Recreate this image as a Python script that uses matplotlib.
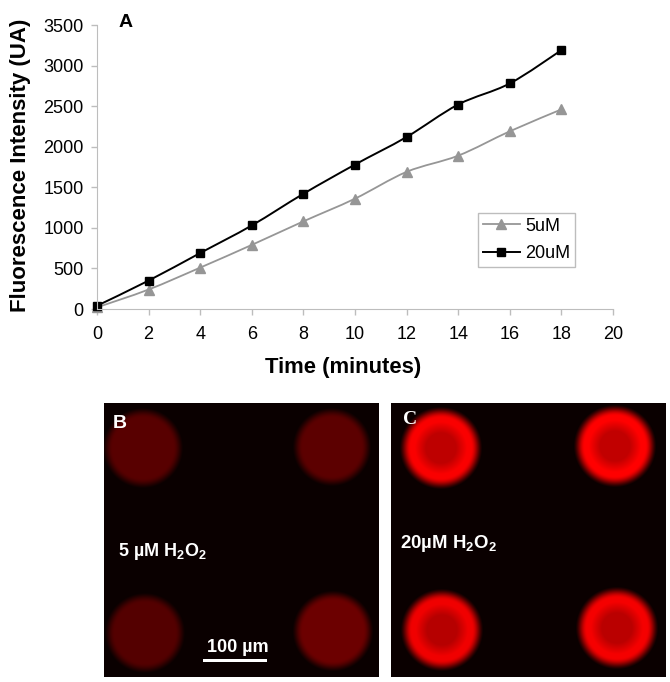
import numpy as np
import matplotlib
matplotlib.use('Agg')
import matplotlib.pyplot as plt
from matplotlib.lines import Line2D
from matplotlib.path import Path
from matplotlib.patches import PathPatch, Rectangle

plt.rcParams['font.family'] = ['Liberation Sans', 'DejaVu Sans']
plt.rcParams['mathtext.fontset'] = 'custom'
plt.rcParams['mathtext.bf'] = 'Liberation Sans:bold'
plt.rcParams['mathtext.rm'] = 'Liberation Sans'

W, H = 670, 682

time_min = [0, 2, 4, 6, 8, 10, 12, 14, 16, 18]
values_5um = [20, 240, 510, 790, 1080, 1360, 1690, 1890, 2190, 2460]
values_20um = [40, 350, 690, 1030, 1420, 1780, 2120, 2520, 2780, 3190]
x_ticks = list(range(0, 21, 2))
y_ticks = list(range(0, 3501, 500))

# spots: centre x, centre y, radius, brightness
spots_b = [(143, 448, 38, 88), (332, 447, 37, 92), (145, 633, 38, 84), (333, 631, 38, 108)]
spots_c = [(441, 448, 38, 250), (615, 446, 38, 255), (442, 630, 38, 240), (617, 628, 38, 245)]

GREY = '#969696'
AXIS = '#bdbdbd'


def box(x0, x1, y0, y1):
    # pixel box to figure fraction
    return [x0 / W, 1 - y1 / H, (x1 - x0) / W, (y1 - y0) / H]


def smooth_path(x, y):
    # same kind of smoothing as a spreadsheet "smoothed line"
    p = np.column_stack([x, y]).astype(float)
    verts = [p[0]]
    codes = [Path.MOVETO]
    for i in range(len(p) - 1):
        a = p[max(i - 1, 0)]
        d = p[min(i + 2, len(p) - 1)]
        verts += [p[i] + (p[i + 1] - a) / 6, p[i + 1] - (d - p[i]) / 6, p[i + 1]]
        codes += [Path.CURVE4] * 3
    return Path(verts, codes)


def spot_image(spots, x0, x1, y0, y1, ring):
    xx, yy = np.meshgrid(np.arange(x0, x1) + 0.5, np.arange(y0, y1) + 0.5)
    red = np.full(xx.shape, 10.0)
    for cx, cy, r, level in spots:
        d = np.hypot(xx - cx, yy - cy)
        edge = np.clip((r + 5 - d) / 13, 0, 1)
        edge = edge * edge * (3 - 2 * edge)
        if ring:
            shape = 0.76 + 0.24 * np.clip((d - 15) / 11, 0, 1)
        else:
            shape = 1.0
        red = np.maximum(red, level * shape * edge)
    img = np.zeros(xx.shape + (3,))
    img[..., 0] = red / 255
    return img


fig = plt.figure(figsize=(W / 100, H / 100), dpi=100, facecolor='white')

ax = fig.add_axes(box(97, 613, 25, 309))
ax.add_patch(PathPatch(smooth_path(time_min, values_5um), fc='none', ec=GREY, lw=1.3))
ax.add_patch(PathPatch(smooth_path(time_min, values_20um), fc='none', ec='black', lw=1.4))
ax.plot(time_min, values_5um, ls='none', marker='^', ms=6.5, color=GREY, clip_on=False)
ax.plot(time_min, values_20um, ls='none', marker='s', ms=5.2, color='black', clip_on=False)
ax.set_xlim(0, 20)
ax.set_ylim(0, 3500)
ax.set_xticks(x_ticks)
ax.set_yticks(y_ticks)
ax.spines[['top', 'right']].set_visible(False)
ax.spines[['left', 'bottom']].set_color(AXIS)
ax.tick_params(axis='both', color=AXIS, length=4.5, width=1, labelsize=13)
ax.tick_params(axis='x', pad=8)
ax.tick_params(axis='y', pad=5)
fig.text(343 / W, 1 - 367 / H, 'Time (minutes)', fontsize=15.8, fontweight='bold',
         ha='center', va='center')
fig.text(21 / W, 1 - 165 / H, 'Fluorescence Intensity (UA)', fontsize=16, fontweight='bold',
         rotation=90, ha='center', va='center')
fig.text(119 / W, 1 - 27 / H, 'A', fontsize=14, fontweight='bold')

handles = [
    Line2D([], [], color=GREY, lw=1.3, marker='^', ms=6.5),
    Line2D([], [], color='black', lw=1.4, marker='s', ms=5.2),
]
leg = ax.legend(handles, ['5uM', '20uM'], loc='upper left', fontsize=13, fancybox=False,
                bbox_to_anchor=(478 / W, 1 - 213 / H), bbox_transform=fig.transFigure,
                borderaxespad=0, handlelength=2.1, handletextpad=0.25, labelspacing=0.6,
                borderpad=0.25, framealpha=1)
leg.get_frame().set_edgecolor(AXIS)
leg.get_frame().set_linewidth(1)

# panel B
bx = fig.add_axes(box(104, 379, 403, 677))
bx.imshow(spot_image(spots_b, 104, 379, 403, 677, False), extent=(104, 379, 677, 403),
          aspect='auto', interpolation='bilinear')
bx.axis('off')
bx.text(113, 424, 'B', color='white', fontsize=14, fontweight='bold', va='center')
bx.text(118, 551, r'5 µM H$_{\mathbf{2}}$O$_{\mathbf{2}}$', color='white', fontsize=13,
        fontweight='bold', va='center')
bx.text(238, 648, '100 µm', color='white', fontsize=13, fontweight='bold', va='center', ha='center')
bx.add_patch(Rectangle((203, 659), 64, 3, fc='white', ec='none'))

# panel C
cx = fig.add_axes(box(391, 666, 403, 677))
cx.imshow(spot_image(spots_c, 391, 666, 403, 677, True), extent=(391, 666, 677, 403),
          aspect='auto', interpolation='bilinear')
cx.axis('off')
cx.text(403, 420, 'C', color='white', fontsize=14, fontweight='bold', va='center',
        family='Liberation Serif')
cx.text(400, 544, r'20µM H$_{\mathbf{2}}$O$_{\mathbf{2}}$', color='white', fontsize=13.4,
        fontweight='bold', va='center')

fig.savefig('out.png', dpi=100, facecolor='white')
